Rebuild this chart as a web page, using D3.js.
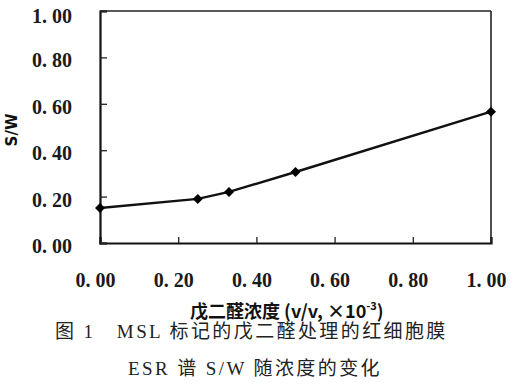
<!DOCTYPE html>
<html>
<head>
<meta charset="utf-8">
<script src="https://cdn.jsdelivr.net/npm/d3@7"></script>
<style>
  body { margin: 0; background: #fff; }
  svg { display: block; }
  .tick text { font-family: "Liberation Serif", serif; font-size: 20px; font-weight: bold; fill: #1a1a1a; }
</style>
</head>
<body>
<div id="chart"></div>
<script>
// Data
const concentration = [0.00, 0.25, 0.33, 0.50, 1.00];
const swRatio = [0.151, 0.19, 0.22, 0.306, 0.566];
const xTicks = [0, 0.2, 0.4, 0.6, 0.8, 1.0];
const yTicks = [0, 0.2, 0.4, 0.6, 0.8, 1.0];
const xTitle = "戊二醛浓度 (v/v, ×10";
const captionLines = ["图 1\u3000MSL 标记的戊二醛处理的红细胞膜", "ESR 谱 S/W 随浓度的变化"];

const W = 513, H = 385;
const margin = { top: 11, right: 22, bottom: 142, left: 100 };
const width = W - margin.left - margin.right;
const height = H - margin.top - margin.bottom;

const svg = d3.select("#chart")
    .append("svg")
    .attr("width", W)
    .attr("height", H);

const g = svg.append("g")
    .attr("transform", `translate(${margin.left},${margin.top})`);

const x = d3.scaleLinear().domain([0, 1]).range([0, width]);
const y = d3.scaleLinear().domain([0, 1]).range([height, 0]);

const fmt = v => d3.format(".2f")(v).replace(".", ". ");

// Frame (top and right)
g.append("line").attr("x1", 0).attr("x2", width).attr("y1", 0).attr("y2", 0)
    .attr("stroke", "#222").attr("stroke-width", 1.6);
g.append("line").attr("x1", width).attr("x2", width).attr("y1", 0).attr("y2", height)
    .attr("stroke", "#222").attr("stroke-width", 1.6);

// Axes with inward ticks
const xAxis = g.append("g")
    .attr("transform", `translate(0,${height})`)
    .call(d3.axisBottom(x).tickValues(xTicks).tickSize(-6).tickPadding(30).tickFormat(fmt));
xAxis.selectAll(".tick text").attr("dx", -5);

const yAxis = g.append("g")
    .call(d3.axisLeft(y).tickValues(yTicks).tickSize(-7).tickPadding(28).tickFormat(fmt));
yAxis.selectAll(".tick text").attr("dy", "0.62em").attr("transform", d => `translate(0,${d === 1 ? -1 : -3})`);

[xAxis, yAxis].forEach(a => {
    a.select(".domain").attr("stroke", "#111").attr("stroke-width", 2.2);
    a.selectAll(".tick line").attr("stroke", "#222").attr("stroke-width", 1.3);
});

// Line
const pts = concentration.map((c, i) => ({ c, v: swRatio[i] }));
const line = d3.line().x(d => x(d.c)).y(d => y(d.v));
g.append("path")
    .datum(pts)
    .attr("d", line)
    .attr("fill", "none")
    .attr("stroke", "#111")
    .attr("stroke-width", 2.4);

// Diamond markers
g.selectAll(".pt")
    .data(pts)
    .enter()
    .append("path")
    .attr("class", "pt")
    .attr("transform", d => `translate(${x(d.c)},${y(d.v)}) rotate(45)`)
    .attr("d", d3.symbol().type(d3.symbolSquare).size(50))
    .attr("fill", "#000");

// Y axis title
svg.append("text")
    .attr("transform", `translate(17,130) rotate(-90)`)
    .attr("text-anchor", "middle")
    .attr("font-family", "DejaVu Sans, sans-serif")
    .attr("font-weight", "bold")
    .attr("font-size", 15)
    .attr("fill", "#111")
    .text("S/W");

// X axis title
const xt = svg.append("text")
    .attr("x", 190)
    .attr("y", 318)
    .attr("font-family", "Noto Sans CJK SC, sans-serif")
    .attr("font-weight", "bold")
    .attr("font-size", 18)
    .attr("fill", "#111");
xt.append("tspan").text(xTitle);
xt.append("tspan").attr("font-size", 11).attr("dy", -8).text("-3");
xt.append("tspan").attr("dy", 8).text(")");

// Caption
svg.selectAll(".cap")
    .data(captionLines)
    .enter()
    .append("text")
    .attr("class", "cap")
    .attr("x", (d, i) => i === 0 ? 55 : 128)
    .attr("y", (d, i) => i === 0 ? 338 : 375)
    .attr("font-family", "Liberation Serif, Noto Sans CJK SC, serif")
    .attr("font-size", 19)
    .attr("letter-spacing", 2.4)
    .attr("fill", "#222")
    .text(d => d);
</script>
</body>
</html>
